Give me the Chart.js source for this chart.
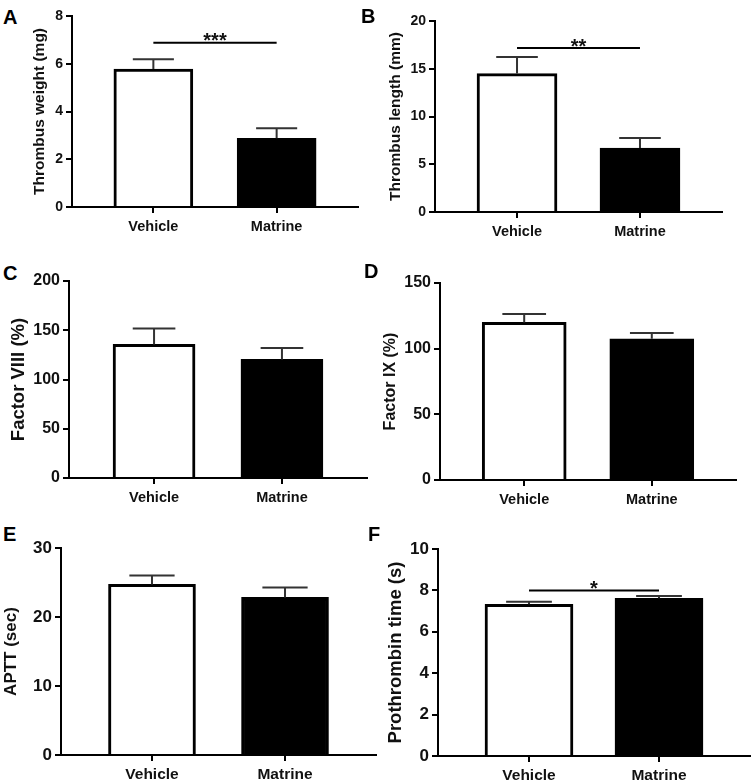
<!DOCTYPE html>
<html>
<head>
<meta charset="utf-8">
<script src="https://cdn.jsdelivr.net/npm/chart.js@4.4.1/dist/chart.umd.min.js"></script>
<style>
  body { margin: 0; background: #fff; }
  #figure { position: relative; width: 754px; height: 784px; overflow: hidden; }
  .panel { position: absolute; }
  .letter { position: absolute; font: bold 20px "Liberation Sans", Arial, sans-serif; line-height: 20px; color: #000; }
</style>
</head>
<body>
<div id="figure"></div>
<script>
const groups = ["Vehicle", "Matrine"];

// mean and upper error (SEM) per group
const weightMean = [5.78, 2.88];
const weightErr = [0.41, 0.42];
const weightTicks = [0, 2, 4, 6, 8];

const lengthMean = [14.49, 6.7];
const lengthErr = [1.74, 1.05];
const lengthTicks = [0, 5, 10, 15, 20];

const f8Mean = [135.6, 120.4];
const f8Err = [16.2, 11.5];
const f8Ticks = [0, 50, 100, 150, 200];

const f9Mean = [120.0, 107.5];
const f9Err = [6.4, 4.4];
const f9Ticks = [0, 50, 100, 150];

const apttMean = [24.72, 22.84];
const apttErr = [1.31, 1.45];
const apttTicks = [0, 10, 20, 30];

const ptMean = [7.33, 7.62];
const ptErr = [0.12, 0.11];
const ptTicks = [0, 2, 4, 6, 8, 10];

const FONT = '"Liberation Sans", Arial, Helvetica, sans-serif';

const panels = [
  { letter: "A", lx: 3, ly: 6.5, box: [0, 0, 377, 250], area: [72, 358, 16, 207], xPad: 0.66, bar: 79,
    title: "Thrombus weight (mg)", tSize: 15.5, tPad: 30, tick: 14, cat: 14.5, catPad: 5,
    mean: weightMean, err: weightErr, ticks: weightTicks, sig: { y: 6.88, text: "***" } },
  { letter: "B", lx: 361, ly: 5.5, box: [377, 0, 377, 250], area: [58, 345, 21, 212], xPad: 0.667, bar: 80,
    title: "Thrombus length (mm)", tSize: 15.5, tPad: 9, tick: 14, cat: 14.5, catPad: 5,
    mean: lengthMean, err: lengthErr, ticks: lengthTicks, sig: { y: 17.17, text: "**" } },
  { letter: "C", lx: 3, ly: 262.5, box: [0, 260, 377, 260], area: [69, 367, 21, 218], xPad: 0.665, bar: 82,
    title: "Factor VIII (%)", tSize: 18.5, tPad: 8, tick: 16, cat: 14.5, catPad: 5,
    mean: f8Mean, err: f8Err, ticks: f8Ticks, sig: null },
  { letter: "D", lx: 364, ly: 260.5, box: [377, 260, 377, 260], area: [63, 359, 23, 220], xPad: 0.66, bar: 84,
    title: "Factor IX (%)", tSize: 16, tPad: 4, tick: 16, cat: 14.5, catPad: 5,
    mean: f9Mean, err: f9Err, ticks: f9Ticks, sig: null },
  { letter: "E", lx: 3, ly: 523.5, box: [0, 520, 377, 264], area: [61, 376, 28, 235], xPad: 0.684, bar: 87,
    title: "APTT (sec)", tSize: 17, tPad: 1.5, tick: 17, cat: 15.5, catPad: 4,
    mean: apttMean, err: apttErr, ticks: apttTicks, sig: null },
  { letter: "F", lx: 368, ly: 523.5, box: [377, 520, 377, 264], area: [61, 373, 29, 236], xPad: 0.7, bar: 88,
    title: "Prothrombin time (s)", tSize: 18.5, tPad: 7.7, tick: 17, cat: 15.5, catPad: 4,
    mean: ptMean, err: ptErr, ticks: ptTicks, sig: { y: 8.0, text: "*" } },
];

// draws the upper error bar caps and the significance bracket
const errorBars = {
  id: "errorBars",
  afterDatasetsDraw(chart, args, opts) {
    const { ctx } = chart;
    const x = chart.scales.x;
    const y = chart.scales.y;
    const meta = chart.getDatasetMeta(0);
    ctx.save();
    ctx.strokeStyle = "#333";
    ctx.lineWidth = 2;
    opts.mean.forEach((m, i) => {
      const cx = x.getPixelForValue(i);
      const yBase = y.getPixelForValue(m);
      const yTop = y.getPixelForValue(m + opts.err[i]);
      const half = meta.data[i].width * 0.26;
      ctx.beginPath();
      ctx.moveTo(cx, yBase);
      ctx.lineTo(cx, yTop);
      ctx.moveTo(cx - half, yTop);
      ctx.lineTo(cx + half, yTop);
      ctx.stroke();
    });
    if (opts.sig) {
      const x0 = x.getPixelForValue(0);
      const x1 = x.getPixelForValue(1);
      const ly = y.getPixelForValue(opts.sig.y);
      ctx.strokeStyle = "#000";
      ctx.beginPath();
      ctx.moveTo(x0, ly);
      ctx.lineTo(x1, ly);
      ctx.stroke();
      ctx.fillStyle = "#111";
      ctx.font = "bold 20px " + FONT;
      ctx.textAlign = "center";
      ctx.textBaseline = "alphabetic";
      ctx.fillText(opts.sig.text, (x0 + x1) / 2, ly + 4.5);
    }
    ctx.restore();
  },
};

const figure = document.getElementById("figure");

panels.forEach((p) => {
  const letter = document.createElement("div");
  letter.className = "letter";
  letter.style.left = p.lx + "px";
  letter.style.top = p.ly + "px";
  letter.textContent = p.letter;
  figure.appendChild(letter);

  const [bx, by, bw, bh] = p.box;
  const [aLeft, aRight, aTop, aBottom] = p.area;
  const canvas = document.createElement("canvas");
  canvas.className = "panel";
  canvas.style.left = bx + "px";
  canvas.style.top = by + "px";
  canvas.width = bw;
  canvas.height = bh;
  figure.appendChild(canvas);

  new Chart(canvas.getContext("2d"), {
    type: "bar",
    data: {
      datasets: [
        {
          data: p.mean.map((v, i) => ({ x: i, y: v })),
          backgroundColor: ["#fff", "#000"],
          borderColor: "#000",
          borderWidth: 3,
          borderSkipped: "start",
          barThickness: p.bar,
        },
      ],
    },
    options: {
      responsive: false,
      animation: false,
      layout: { padding: { top: aTop, right: bw - aRight, left: 0, bottom: 0 } },
      plugins: {
        legend: { display: false },
        tooltip: { enabled: false },
        errorBars: { mean: p.mean, err: p.err, sig: p.sig },
      },
      scales: {
        x: {
          type: "linear",
          offset: false,
          min: -p.xPad,
          max: 1 + p.xPad,
          afterBuildTicks: (s) => {
            s.ticks = groups.map((g, i) => ({ value: i }));
          },
          afterFit: (s) => {
            s.height = bh - aBottom;
          },
          ticks: {
            callback: (v) => groups[v],
            color: "#111",
            font: { family: FONT, size: p.cat, weight: "bold" },
            padding: p.catPad,
            maxRotation: 0,
            autoSkip: false,
          },
          grid: { offset: false, drawOnChartArea: false, drawTicks: true, tickLength: 6, color: "#000", lineWidth: 2 },
          border: { display: true, color: "#000", width: 2 },
        },
        y: {
          min: 0,
          max: p.ticks[p.ticks.length - 1],
          afterBuildTicks: (s) => {
            s.ticks = p.ticks.map((v) => ({ value: v }));
          },
          afterFit: (s) => {
            s.width = aLeft;
          },
          ticks: {
            color: "#111",
            font: { family: FONT, size: p.tick, weight: "bold" },
            padding: 3,
          },
          grid: { drawOnChartArea: false, drawTicks: true, tickLength: 6, color: "#000", lineWidth: 2 },
          border: { display: true, color: "#000", width: 2 },
          title: {
            display: true,
            text: p.title,
            color: "#111",
            font: { family: FONT, size: p.tSize, weight: "bold" },
            padding: { top: p.tPad, bottom: 0 },
          },
        },
      },
    },
    plugins: [errorBars],
  });
});
</script>
</body>
</html>
